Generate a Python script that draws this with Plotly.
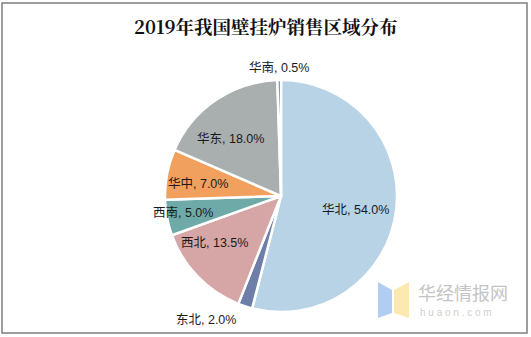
import math
import plotly.graph_objects as go

# Regional share of wall-hung boiler sales, 2019 (%)
regions = ["华北", "东北", "西北", "西南", "华中", "华东", "华南"]
shares = [54.0, 2.0, 13.5, 5.0, 7.0, 18.0, 0.5]
colors = ["#b8d3e5", "#6e7ea8", "#d5a6a5", "#6eaaa8", "#f1a05e", "#a9aeae", "#4e80ac"]

W, H = 531, 337
CX, CY, R = 281, 196, 116          # pie centre and radius, px
# label placement: distance from centre (in radii) and angular nudge (deg)
label_r = [0.65, 1.25, 0.70, 0.86, 0.72, 0.66, 1.11]
label_da = [3, 13, 9, 1, -2, -7, 0]

fig = go.Figure()
fig.add_trace(go.Pie(
    labels=regions,
    values=shares,
    sort=False,
    direction="clockwise",
    rotation=0,
    marker=dict(colors=colors, line=dict(color="white", width=2.5)),
    textinfo="none",
    domain=dict(x=[(CX - R) / W, (CX + R) / W],
                y=[(H - CY - R) / H, (H - CY + R) / H]),
    showlegend=False,
    hoverinfo="label+percent",
))

# Data labels "region, value%" placed around each slice's mid-angle
total = sum(shares)
cum = 0.0
for name, v, rf, da in zip(regions, shares, label_r, label_da):
    mid = (cum + v / 2) / total * 360 + da
    cum += v
    a = math.radians(mid)
    px = CX + rf * R * math.sin(a)
    py = CY - rf * R * math.cos(a)
    fig.add_annotation(
        x=px / W, y=1 - py / H, xref="paper", yref="paper",
        text=f"{name}, {v:.1f}%", showarrow=False,
        xanchor="center", yanchor="middle",
        font=dict(family="Liberation Sans, Noto Sans CJK SC, Arial", size=12.5, color="#1a1a1a"),
    )

# Title
fig.add_annotation(
    x=0.5, y=1 - 26 / H, xref="paper", yref="paper",
    text="<b>2019年我国壁挂炉销售区域分布</b>",
    showarrow=False, xanchor="center", yanchor="middle",
    font=dict(family="Noto Serif CJK SC, Noto Sans CJK SC, serif", size=18.5, color="#111111"),
)

# Site mark (logo + name)
fig.add_shape(type="path", xref="paper", yref="paper",
              path=f"M {378/W} {1-282/H} L {392/W} {1-290/H} L {392/W} {1-313/H} L {378/W} {1-318/H} Z",
              fillcolor="#a8c8f0", line=dict(width=0), layer="above", opacity=0.9)
fig.add_shape(type="path", xref="paper", yref="paper",
              path=f"M {394/W} {1-290/H} L {409/W} {1-282/H} L {409/W} {1-318/H} L {394/W} {1-313/H} Z",
              fillcolor="#fbe7a6", line=dict(width=0), layer="above", opacity=0.9)
fig.add_annotation(
    x=416 / W, y=1 - 292 / H, xref="paper", yref="paper",
    text="华经情报网", showarrow=False, xanchor="left", yanchor="middle",
    font=dict(family="Noto Sans CJK SC", size=18, color="#c4c4c4"),
)
fig.add_annotation(
    x=418 / W, y=1 - 312 / H, xref="paper", yref="paper",
    text="h u a o n . c o m", showarrow=False, xanchor="left", yanchor="middle",
    font=dict(family="Arial", size=10, color="#cfcfcf"),
)

# Outer frame
fig.add_shape(type="rect", xref="paper", yref="paper",
              x0=2 / W, x1=527 / W, y0=1 - 333 / H, y1=1 - 3 / H,
              line=dict(color="#7f7f7f", width=1.5), fillcolor="rgba(0,0,0,0)")

fig.update_layout(
    width=W, height=H,
    margin=dict(l=0, r=0, t=0, b=0),
    paper_bgcolor="white",
    plot_bgcolor="white",
)

fig.write_html("out.html")
